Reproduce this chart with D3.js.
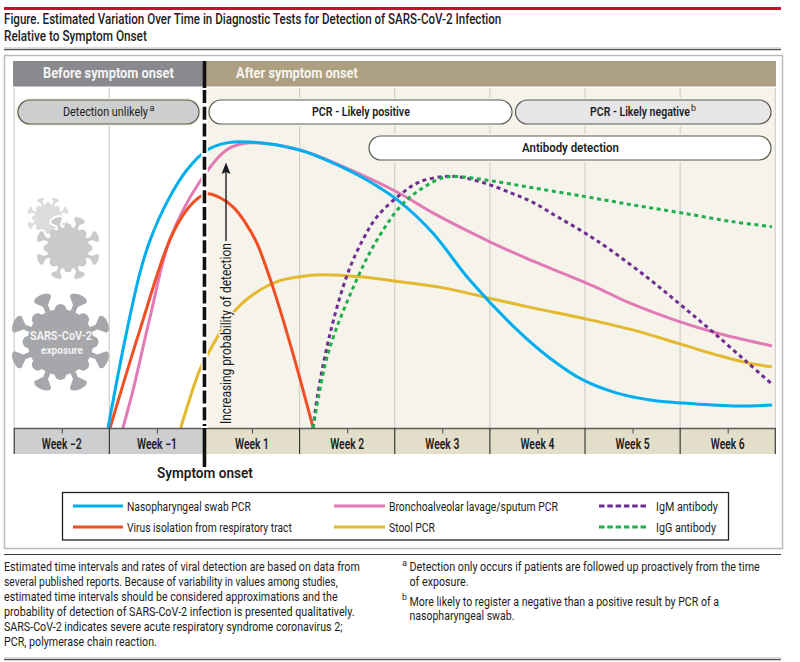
<!DOCTYPE html>
<html>
<head>
<meta charset="utf-8">
<script src="https://cdn.jsdelivr.net/npm/d3@7"></script>
<style>
  body { margin: 0; background: #fff; }
  svg { display: block; }
  text { font-family: "Roboto", sans-serif; fill: #1c1c22; }
</style>
</head>
<body>
<div id="chart"></div>
<script>
// values: [day after symptom onset, probability of detection 0-100]
const nasopharyngeal = [[-7.1,0],[-5.85,30.8],[-4.75,54.2],[-4,65.7],[-2.7,79.5],[-1.3,90.2],[0.2,97.2],[1.65,99.7],[3.35,100],[7,97.2],[9.45,92.7],[11.95,86.7],[14.4,79],[16.8,68.2],[19.5,51.8],[23,34.3],[25.4,24.5],[27.85,16.8],[30.35,12.2],[32.8,9.8],[35.2,8.7],[38.9,7.7],[41.75,8]];
const bronchoalveolar = [[-6,0],[-5.25,13.3],[-4,38.9],[-2.55,65.8],[-0.35,86.1],[1.65,97.3],[3.35,99.7],[7,97.2],[10.7,90.3],[14.4,81.9],[16.8,75.2],[21,65.1],[24.15,58.4],[28.9,49],[31.1,44.1],[35,37.1],[37.7,33.2],[41.75,28.7]];
const virusIsolation = [[-6.95,0],[-4.75,34.3],[-2.55,65.8],[-1.3,76.3],[-0.35,80.8],[0.25,81.9],[1.15,80.5],[2.1,77.3],[2.98,72],[3.85,64.7],[5.05,49],[6.5,26.2],[8,0]];
const stool = [[-1.75,0],[-0.35,20.3],[0.2,25.5],[2.1,40.2],[3.55,46.6],[5.3,51.1],[7,52.9],[8.7,53.6],[11.45,52.9],[14.4,51.1],[17.55,49],[20.85,45.5],[24.15,42],[28,38.2],[31.5,34.3],[35,29.4],[37.7,25.5],[39.9,22.8],[41.75,21.4]];
const igm = [[8,0],[8.3,10.9],[9.25,33.2],[10.55,54.2],[11.65,65.8],[12.7,73.9],[14.4,81.6],[15.85,86.1],[17.55,87.9],[18.6,87.9],[20.5,85.8],[22.5,82.3],[24.2,78.8],[25.95,73.9],[27.85,68.6],[29.85,62.3],[32.8,51.8],[35.2,42.4],[37.4,33.6],[39.9,23.1],[41.75,15.4]];
const igg = [[8,0],[9.1,26.2],[11.3,52.9],[12.7,65.8],[14.4,77.4],[15.85,83.3],[17.55,87.5],[18.65,87.9],[21,86.5],[24.15,84],[28,80.9],[31.5,78],[35,75.3],[38.9,72.1],[41.75,70.4]];

const weekLabels = ['Week −2', 'Week −1', 'Week 1', 'Week 2', 'Week 3', 'Week 4', 'Week 5', 'Week 6'];
const weekEdges = [-14, -7, 0, 7, 14, 21, 28, 35, 42];

const width = 800, height = 662;
const svg = d3.select('#chart').append('svg').attr('width', width).attr('height', height);

const x = d3.scaleLinear().domain([-14, 42]).range([14.2, 775.3]);
const y = d3.scaleLinear().domain([0, 100]).range([428, 142]);
const onsetX = x(0);

// text helper, squeezes the text sideways so it covers the same width as the condensed figure type
function label(str, px, py, len, size, opts) {
  opts = opts || {};
  const t = svg.append('text')
    .attr('font-size', size)
    .attr('font-weight', opts.weight || 400)
    .style('fill', opts.fill || '#1c1c22')
    .text(str);
  const natural = t.node().getComputedTextLength();
  const rot = opts.rotate ? ` rotate(${opts.rotate})` : '';
  t.attr('transform', `translate(${px},${py})${rot} scale(${len / natural},1)`);
  return t;
}

function hline(x0, x1, py, color, w) {
  svg.append('line').attr('x1', x0).attr('x2', x1).attr('y1', py).attr('y2', py)
    .attr('stroke', color).attr('stroke-width', w);
}

// title block
hline(4, 781, 8.5, '#c8102e', 3);
label('Figure. Estimated Variation Over Time in Diagnostic Tests for Detection of SARS-CoV-2 Infection', 4, 24, 498, 14.5, {weight: 500});
label('Relative to Symptom Onset', 4, 41, 143, 14.5, {weight: 500});
hline(4, 781, 47.5, '#dddddd', 1);
hline(4, 781, 49.5, '#55565a', 1.5);

// frame
svg.append('rect').attr('x', 4.5).attr('y', 55.5).attr('width', 778).attr('height', 493)
  .attr('fill', '#fff').attr('stroke', '#b9babc').attr('stroke-width', 1.5);

// headers and background
svg.append('rect').attr('x', 13).attr('y', 61).attr('width', onsetX - 13).attr('height', 25.5).attr('fill', '#898a8e');
svg.append('rect').attr('x', onsetX).attr('y', 61).attr('width', 776 - onsetX).attr('height', 25.5).attr('fill', '#ac9f82');
svg.append('rect').attr('x', onsetX).attr('y', 88).attr('width', x(42) - onsetX).attr('height', 340).attr('fill', '#f5f3ea');
label('Before symptom onset', 43, 78, 131, 14, {weight: 700, fill: '#f4f4f4'});
label('After symptom onset', 236, 78, 122, 14, {weight: 700, fill: '#f7f5ee'});

// week gridlines
svg.append('g').selectAll('line').data(weekEdges).join('line')
  .attr('x1', d => x(d)).attr('x2', d => x(d))
  .attr('y1', 88).attr('y2', 428)
  .attr('stroke', '#cfcfcd').attr('stroke-width', 1.2);

// pills
function pill(x0, x1, py, fill) {
  svg.append('rect').attr('x', x0).attr('y', py).attr('width', x1 - x0).attr('height', 24)
    .attr('rx', 12).attr('fill', 'none').attr('stroke', '#f5f3ea').attr('stroke-width', 4.5);
  svg.append('rect').attr('x', x0).attr('y', py).attr('width', x1 - x0).attr('height', 24)
    .attr('rx', 12).attr('fill', fill).attr('stroke', '#5a584f').attr('stroke-width', 1.2);
}
pill(18, 199, 100, '#cdcecf');
pill(209, 512, 100, '#ffffff');
pill(515.5, 771, 100, '#e6e6e7');
pill(369, 771, 136, '#ffffff');
label('Detection unlikely', 63, 116, 85, 13);
label('a', 149.5, 111, 5, 9);
label('PCR - Likely positive', 312, 116, 98, 13, {weight: 600});
label('PCR - Likely negative', 590, 116, 100, 13, {weight: 600});
label('b', 691, 111, 5, 9);
label('Antibody detection', 522, 152, 97, 13, {weight: 600});

// virus icons
const spike = 'M-2.6,-30 L-2.6,-39 L-9,-46 Q-9,-49 -6,-50 Q0,-52 6,-50 Q9,-49 9,-46 L2.6,-39 L2.6,-30 Z';
function virus(cx, cy, k, fill, outline) {
  const g = svg.append('g').attr('transform', `translate(${cx},${cy}) scale(${k})`);
  const spikeAngles = d3.range(8).map(i => 22.5 + i * 45);
  const bumpAngles = d3.range(8).map(i => i * 45);
  if (outline) {
    g.append('g').selectAll('path').data(spikeAngles).join('path')
      .attr('d', spike).attr('transform', d => `rotate(${d})`)
      .attr('fill', '#fff').attr('stroke', '#fff').attr('stroke-width', 6);
    g.append('circle').attr('r', 33).attr('fill', '#fff').attr('stroke', '#fff').attr('stroke-width', 7);
  }
  g.append('circle').attr('r', 33).attr('fill', fill);
  g.append('g').selectAll('path').data(spikeAngles).join('path')
    .attr('d', spike).attr('transform', d => `rotate(${d})`).attr('fill', fill);
  g.append('g').selectAll('circle').data(bumpAngles).join('circle')
    .attr('cy', -32).attr('r', 6).attr('transform', d => `rotate(${d})`).attr('fill', fill);
}
virus(48, 218, 0.42, '#dcdcde', false);
virus(68, 248, 0.64, '#c9cacc', true);
virus(60.5, 342, 1, '#a6a7aa', false);
label('SARS-CoV-2', 30, 340, 62, 13, {weight: 700, fill: '#f2f2f2'});
label('exposure', 41, 354, 42, 11, {weight: 700, fill: '#f2f2f2'});

// curves
const line = d3.line().x(d => x(d[0])).y(d => y(d[1])).curve(d3.curveCatmullRom.alpha(0.5));
const curves = [
  {values: bronchoalveolar, color: '#e27ab6', dash: null},
  {values: stool, color: '#e4b92e', dash: null},
  {values: virusIsolation, color: '#f04e23', dash: null},
  {values: nasopharyngeal, color: '#00aeef', dash: null},
  {values: igm, color: '#6f2c91', dash: '4 3.6'},
  {values: igg, color: '#1fae4b', dash: '4 3.6'}
];
svg.append('g').selectAll('path').data(curves).join('path')
  .attr('d', d => line(d.values))
  .attr('fill', 'none')
  .attr('stroke', d => d.color)
  .attr('stroke-width', 3)
  .attr('stroke-dasharray', d => d.dash);

// probability arrow
svg.append('line').attr('x1', 226).attr('x2', 226).attr('y1', 172).attr('y2', 241)
  .attr('stroke', '#1c1c22').attr('stroke-width', 1.4);
svg.append('path').attr('d', 'M226,162.5 L230.5,174 L226,172 L221.5,174 Z').attr('fill', '#1c1c22');
label('Increasing probability of detection', 230.5, 424, 181, 14, {rotate: -90})
  .style('stroke', '#f5f3ea').style('stroke-width', 3).style('paint-order', 'stroke');

// week band
svg.append('rect').attr('x', x(-14)).attr('y', 429).attr('width', onsetX - x(-14)).attr('height', 25).attr('fill', '#cdced0');
svg.append('rect').attr('x', onsetX).attr('y', 429).attr('width', x(42) - onsetX).attr('height', 25).attr('fill', '#e3dec9');
const weekCenters = weekEdges.slice(0, -1).map(d => d + 3.5);
const axis = d3.axisTop(x).tickValues(weekCenters).tickSize(-5).tickFormat('');
const axisG = svg.append('g').attr('transform', 'translate(0,428.5)').call(axis);
axisG.select('.domain').remove();
axisG.selectAll('.tick line').attr('stroke', '#45443f').attr('stroke-width', 1);
hline(x(-14), x(42), 428.5, '#5e5d58', 1.6);
svg.append('g').selectAll('line').data(weekEdges).join('line')
  .attr('x1', d => x(d)).attr('x2', d => x(d))
  .attr('y1', 428).attr('y2', 454)
  .attr('stroke', '#2b2b2b').attr('stroke-width', 1.1);
weekLabels.forEach((d, i) => {
  const w = i < 2 ? 40 : 34;
  label(d, x(weekCenters[i]) - w / 2, 449, w, 14, {weight: 600});
});

// symptom onset marker
svg.append('line').attr('x1', onsetX).attr('x2', onsetX).attr('y1', 88).attr('y2', 428)
  .attr('stroke', '#fff').attr('stroke-width', 6.5);
svg.append('line').attr('x1', onsetX).attr('x2', onsetX).attr('y1', 61).attr('y2', 88)
  .attr('stroke', '#111').attr('stroke-width', 3.6);
svg.append('line').attr('x1', onsetX).attr('x2', onsetX).attr('y1', 90).attr('y2', 426)
  .attr('stroke', '#111').attr('stroke-width', 3.6).attr('stroke-dasharray', '13 3.7');
svg.append('line').attr('x1', onsetX).attr('x2', onsetX).attr('y1', 428).attr('y2', 467)
  .attr('stroke', '#111').attr('stroke-width', 3.6);
label('Symptom onset', 157, 478, 96, 15, {weight: 600});

// legend
svg.append('rect').attr('x', 62.5).attr('y', 492.5).attr('width', 666).attr('height', 47.5)
  .attr('fill', '#fff').attr('stroke', '#222').attr('stroke-width', 1.3);
function legendItem(x0, x1, py, color, dash, str, tx, tlen) {
  svg.append('line').attr('x1', x0).attr('x2', x1).attr('y1', py).attr('y2', py)
    .attr('stroke', color).attr('stroke-width', 3).attr('stroke-dasharray', dash);
  label(str, tx, py + 5, tlen, 13);
}
legendItem(73, 123, 506, '#00aeef', null, 'Nasopharyngeal swab PCR', 127, 124);
legendItem(73, 123, 527, '#f04e23', null, 'Virus isolation from respiratory tract', 127, 165);
legendItem(334, 385, 506, '#e27ab6', null, 'Bronchoalveolar lavage/sputum PCR', 389, 169);
legendItem(334, 385, 527, '#e4b92e', null, 'Stool PCR', 389, 46);
legendItem(599, 647, 506, '#6f2c91', '5.5 2.8', 'IgM antibody', 656, 62);
legendItem(599, 647, 527, '#1fae4b', '5.5 2.8', 'IgG antibody', 656, 60);

// footer notes
hline(4, 781, 554.5, '#3a3a3d', 1.2);
label('Estimated time intervals and rates of viral detection are based on data from', 4, 571, 356, 12.5);
label('several published reports. Because of variability in values among studies,', 4, 585.5, 334, 12.5);
label('estimated time intervals should be considered approximations and the', 4, 600.5, 334, 12.5);
label('probability of detection of SARS-CoV-2 infection is presented qualitatively.', 4, 616, 351, 12.5);
label('SARS-CoV-2 indicates severe acute respiratory syndrome coronavirus 2;', 4, 631, 339, 12.5);
label('PCR, polymerase chain reaction.', 4, 646, 153, 12.5);
label('a', 402, 566, 5, 8.5);
label('Detection only occurs if patients are followed up proactively from the time', 409.5, 571, 351, 12.5);
label('of exposure.', 409.5, 585.5, 59, 12.5);
label('b', 402, 600, 5, 8.5);
label('More likely to register a negative than a positive result by PCR of a', 409.5, 606, 310, 12.5);
label('nasopharyngeal swab.', 409.5, 620, 105, 12.5);
hline(4, 781, 657.5, '#dddddd', 1);
hline(4, 781, 659.5, '#55565a', 1.3);
</script>
</body>
</html>
